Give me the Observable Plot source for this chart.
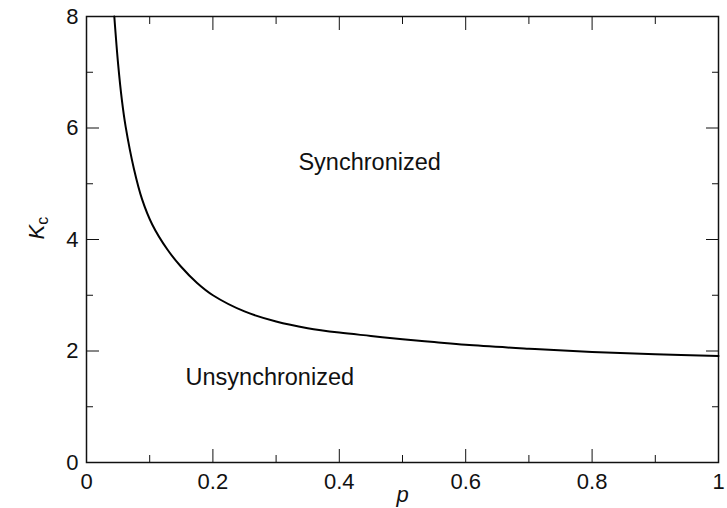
<!DOCTYPE html>
<html>
<head>
<meta charset="utf-8">
<script src="https://cdn.jsdelivr.net/npm/d3@7"></script>
<script src="https://cdn.jsdelivr.net/npm/@observablehq/plot@0.6"></script>
<style>
  html, body { margin: 0; padding: 0; background: #fff; }
</style>
</head>
<body>
<div id="chart"></div>
<script>
// Critical coupling K_c as a function of the rewiring probability p
const pValues = [0.044, 0.050, 0.056, 0.062, 0.075, 0.088, 0.104, 0.128, 0.149, 0.175, 0.20,
                 0.25, 0.30, 0.35, 0.40, 0.45, 0.50, 0.55, 0.60, 0.70, 0.80, 0.90, 1.00];
const kValues = [8.0, 7.15, 6.5, 6.02, 5.27, 4.72, 4.27, 3.82, 3.52, 3.22, 3.0,
                 2.71, 2.53, 2.41, 2.33, 2.27, 2.21, 2.16, 2.11, 2.04, 1.98, 1.94, 1.91];

// Axis ticks
const xMajorTicks = [0, 0.2, 0.4, 0.6, 0.8, 1];
const xMinorTicks = [0.1, 0.3, 0.5, 0.7, 0.9];
const yMajorTicks = [0, 2, 4, 6, 8];
const yMinorTicks = [1, 3, 5, 7];

// Region annotations
const regionNames = ["Synchronized", "Unsynchronized"];
const regionP = [0.448, 0.29];
const regionK = [5.38, 1.52];

const curve = pValues.map((p, i) => ({p, K: kValues[i]}));
const regions = regionNames.map((name, i) => ({name, p: regionP[i], K: regionK[i]}));

const font = "'Liberation Sans', Arial, Helvetica, sans-serif";
const ink = "#111";

const chart = Plot.plot({
  width: 727,
  height: 508,
  marginLeft: 86,
  marginRight: 9,
  marginTop: 16,
  marginBottom: 46,
  style: {fontFamily: font, fontSize: "22px", color: ink, background: "#fff", overflow: "visible"},
  x: {domain: [0, 1]},
  y: {domain: [0, 8]},
  marks: [
    // inward ticks on all four sides
    Plot.axisX({anchor: "bottom", ticks: xMajorTicks, tickSize: -13, text: null, label: null, stroke: ink}),
    Plot.axisX({anchor: "bottom", ticks: xMinorTicks, tickSize: -7, text: null, label: null, stroke: ink}),
    Plot.axisX({anchor: "top", ticks: xMajorTicks, tickSize: -13, text: null, label: null, stroke: ink}),
    Plot.axisX({anchor: "top", ticks: xMinorTicks, tickSize: -7, text: null, label: null, stroke: ink}),
    Plot.axisY({anchor: "left", ticks: yMajorTicks, tickSize: -13, text: null, label: null, stroke: ink}),
    Plot.axisY({anchor: "left", ticks: yMinorTicks, tickSize: -7, text: null, label: null, stroke: ink}),
    Plot.axisY({anchor: "right", ticks: yMajorTicks, tickSize: -13, text: null, label: null, stroke: ink}),
    Plot.axisY({anchor: "right", ticks: yMinorTicks, tickSize: -7, text: null, label: null, stroke: ink}),
    // tick labels
    Plot.axisX({anchor: "bottom", ticks: xMajorTicks, tickSize: 0, tickPadding: 11, tickFormat: d => String(d), label: null, fill: ink}),
    Plot.axisY({anchor: "left", ticks: yMajorTicks, tickSize: 0, tickPadding: 8, tickFormat: d => String(d), label: null, fill: ink}),
    Plot.frame({stroke: ink, strokeWidth: 1.5}),
    // critical coupling curve
    Plot.line(curve, {x: "p", y: "K", curve: "catmull-rom", stroke: "#000", strokeWidth: 2}),
    // region labels
    Plot.text(regions, {x: "p", y: "K", text: "name", fill: ink, fontSize: 23.5}),
    // axis titles
    Plot.text(["p"], {frameAnchor: "bottom", dy: 39, fontStyle: "italic", fill: ink, fontSize: 22}),
    Plot.text(["K"], {frameAnchor: "left", dx: -50, rotate: -90, fontStyle: "italic", fill: ink, fontSize: 22, className: "ktitle"})
  ]
});

// subscript "c" on the vertical axis title
const kText = d3.select(chart).select(".ktitle text");
if (!kText.empty()) {
  kText.append("tspan")
    .attr("font-style", "normal")
    .attr("font-size", 16)
    .attr("dy", "0.3em")
    .text("c");
}

document.getElementById("chart").appendChild(chart);
</script>
</body>
</html>
